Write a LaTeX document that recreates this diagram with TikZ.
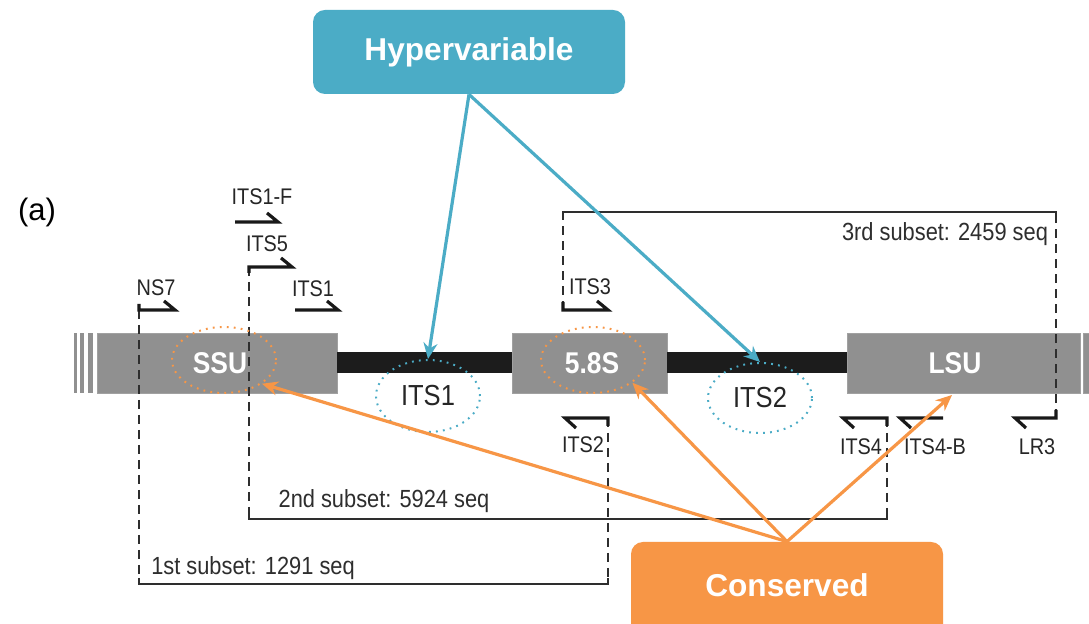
\documentclass[tikz,border=0pt]{standalone}
\usepackage{fontspec}
\setmainfont{Liberation Sans}
\newfontfamily\labfont[FakeStretch=0.88]{Liberation Sans}
\usetikzlibrary{arrows.meta,shapes.geometric}

\definecolor{regiongray}{HTML}{909090}
\definecolor{spacerblack}{HTML}{1C1C1C}
\definecolor{hypercol}{HTML}{4BACC6}
\definecolor{conscol}{HTML}{F79646}
\definecolor{inkgray}{HTML}{2E2E2E}

\tikzset{
  region/.style={fill=regiongray, draw=regiongray!85!white, line width=0.4pt,
    minimum height=30pt, inner sep=0pt},
  regiontext/.style={text=white, font=\labfont\bfseries\fontsize{15}{17}\selectfont, inner sep=0pt},
  spacer/.style={draw=spacerblack, line width=10.5pt},
  dashline/.style={draw=inkgray, line width=0.8pt, dash pattern=on 4.5pt off 3pt},
  subline/.style={draw=inkgray, line width=0.8pt},
  primer/.style={draw=black!90, line width=1.6pt, line join=miter},
  primerlabel/.style={text=black!85, font=\labfont\fontsize{11.3}{13}\selectfont, inner sep=0pt},
  subsetlabel/.style={text=inkgray, font=\labfont\fontsize{12.4}{14}\selectfont, inner sep=0pt},
  hyperring/.style={ellipse, draw=hypercol, line width=1pt, dash pattern=on 0.9pt off 2.6pt,
    inner sep=0pt, text=black!85, font=\labfont\fontsize{14.5}{16}\selectfont},
  consring/.style={ellipse, draw=conscol, line width=1pt, dash pattern=on 0.9pt off 2.6pt,
    inner sep=0pt},
  callout/.style={rounded corners=6pt, inner sep=0pt, text=white,
    font=\bfseries\fontsize{15.8}{18}\selectfont},
  hyperarrow/.style={draw=hypercol, line width=1.6pt, -{Stealth[length=8pt,width=7pt]}},
  consarrow/.style={draw=conscol, line width=1.6pt, -{Stealth[length=8pt,width=7pt]}},
}

\begin{document}
\begin{tikzpicture}[x=0.5pt, y=-0.5pt]
\clip (0,0) rectangle (1089,624);
\fill[white] (0,0) rectangle (1089,624);

% panel tag
\node (tag) at (37,212) {\fontsize{15.5}{18}\selectfont (a)};

% rDNA operon: spacers first, then the coding regions on top
\node[region, minimum width=120pt] (ssu) at (217,363) {};
\node[region, minimum width=77.5pt] (s58) at (589.5,363) {};
\node[region, minimum width=116.5pt] (lsu) at (963.5,363) {};
\node[region, minimum width=10pt] (tail) at (1093,363) {};
\draw[spacer] (ssu.east) -- (s58.west);
\draw[spacer] (s58.east) -- (lsu.west);
% broken-axis stripes at the upstream end
\fill[regiongray] (74,333) rectangle (77,393);
\fill[regiongray] (80,333) rectangle (84,393);
\fill[regiongray] (88,333) rectangle (93,393);

\node[regiontext] (ssutext) at (220,363) {SSU};
\node[regiontext] (s58text) at (592,363) {5.8S};
\node[regiontext] (lsutext) at (955,363) {LSU};

% 1st subset: NS7 -> ITS2
\draw[dashline] (139,310) -- (139,584);
\draw[subline] (139,578) -- (139,584) -- (608,584) -- (608,578);
\draw[dashline] (608,418) -- (608,584);
% 2nd subset: ITS5 -> ITS4
\draw[dashline] (249,267) -- (249,519);
\draw[subline] (249,513) -- (249,519) -- (887,519) -- (887,513);
\draw[dashline] (887,418) -- (887,519);
% 3rd subset: ITS3 -> LR3
\draw[dashline] (563,310) -- (563,212);
\draw[subline] (563,218) -- (563,212) -- (1056,212) -- (1056,218);
\draw[dashline] (1056,418) -- (1056,212);

% forward primers
\draw[primer] (139,304) -- (139,310) -- (175,310) -- (164,301);
\draw[primer] (235,222) -- (278,222) -- (267,213);
\draw[primer] (249,273) -- (249,267) -- (292,267) -- (281,258);
\draw[primer] (295,310) -- (338,310) -- (327,301);
\draw[primer] (563,302) -- (563,310) -- (608,310) -- (597,301);
% reverse primers
\draw[primer] (608,426) -- (608,418) -- (565,418) -- (576,428);
\draw[primer] (887,426) -- (887,418) -- (843,418) -- (854,428);
\draw[primer] (943,418) -- (900,418) -- (911,428);
\draw[primer] (1056,410) -- (1056,418) -- (1015,418) -- (1026,428);

% primer names
\node[primerlabel] (pns7) at (156,288) {NS7};
\node[primerlabel] (pits1f) at (262,197) {ITS1-F};
\node[primerlabel] (pits5) at (267,244) {ITS5};
\node[primerlabel] (pits1) at (313,289) {ITS1};
\node[primerlabel] (pits3) at (590,287) {ITS3};
\node[primerlabel] (pits2) at (583,445) {ITS2};
\node[primerlabel] (pits4) at (861,447) {ITS4};
\node[primerlabel] (pits4b) at (935,447) {ITS4-B};
\node[primerlabel] (plr3) at (1037,447) {LR3};

% subset names
\node[subsetlabel] (sub3) at (945,234) {3rd subset: 2459 seq};
\node[subsetlabel] (sub2) at (384,501) {2nd subset: 5924 seq};
\node[subsetlabel] (sub1) at (253,568) {1st subset: 1291 seq};

% highlighted regions
\node[consring, minimum width=52pt, minimum height=33pt] (ringssu) at (224,360) {};
\node[consring, minimum width=52pt, minimum height=33pt] (ring58) at (593,360) {};
\node[hyperring, minimum width=52pt, minimum height=36pt] (ringits1) at (428,396) {ITS1};
\node[hyperring, minimum width=52pt, minimum height=35pt] (ringits2) at (760,398) {ITS2};
\coordinate (lsutip) at (952,395);

% callouts
\node[callout, fill=hypercol, minimum width=156pt, minimum height=42pt] (hyper) at (469,52) {Hypervariable};
\node[callout, fill=conscol, minimum width=156pt, minimum height=50pt] (cons) at (787,592) {};
\node[text=white, font=\bfseries\fontsize{15.8}{18}\selectfont, inner sep=0pt] (constext) at (787,585) {Conserved};

\draw[hyperarrow] (hyper.south) -- (ringits1.north);
\draw[hyperarrow] (hyper.south) -- (ringits2.north);
\draw[consarrow] (cons.north) -- (ringssu.-32);
\draw[consarrow] (cons.north) -- (ring58.-30);
\draw[consarrow] (cons.north) -- (lsutip);
\end{tikzpicture}
\end{document}
